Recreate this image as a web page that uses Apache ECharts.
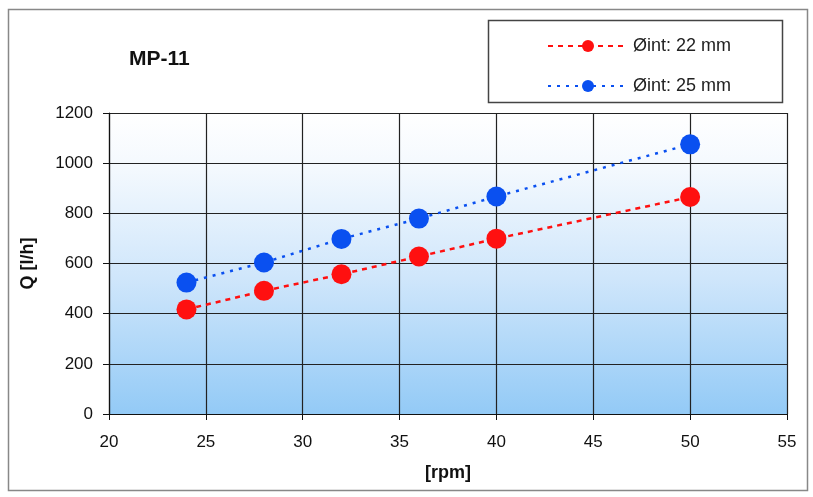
<!DOCTYPE html>
<html><head><meta charset="utf-8">
<script src="https://cdn.jsdelivr.net/npm/echarts@6/dist/echarts.min.js"></script>
<style>html,body{margin:0;padding:0;background:#fff}#c{width:813px;height:497px}</style>
</head><body><div id="c"></div>
<script>
const rpm = [24, 28, 32, 36, 40, 50];
const q22 = [417, 491, 557, 628, 699, 865];
const q25 = [524, 604, 698, 779, 867, 1075];
const seriesNames = ['Øint: 22 mm', 'Øint: 25 mm'];
const titleText = 'MP-11';
const xName = '[rpm]';
const yName = 'Q [l/h]';

const chart = echarts.init(document.getElementById('c'));
const F = 'Liberation Sans, Arial, sans-serif';
chart.setOption({
  animation: false,
  backgroundColor: '#fff',
  title: { text: titleText, left: 124, top: 44, textStyle: { fontFamily: F, fontSize: 21, fontWeight: 'bold', color: '#111' } },
  graphic: [
    { type: 'rect', shape: { x: 8.5, y: 9.5, width: 799, height: 481 }, style: { fill: 'none', stroke: '#888', lineWidth: 1.5 }, z: 0 },
    { type: 'rect', shape: { x: 488.5, y: 20.5, width: 294, height: 82 }, style: { fill: '#fff', stroke: '#444', lineWidth: 1.5 }, z: 1 }
  ],
  legend: {
    orient: 'vertical', left: 542, top: 32, itemWidth: 80, itemHeight: 15, itemGap: 22, z: 5,
    textStyle: { fontFamily: F, fontSize: 18, color: '#222' },
    data: seriesNames
  },
  grid: {
    left: 109, right: 26, top: 113, bottom: 83, show: true, borderWidth: 0,
    backgroundColor: { type: 'linear', x: 0, y: 0, x2: 0, y2: 1, colorStops: [
      { offset: 0, color: '#ffffff' }, { offset: 0.18, color: '#f4f9fe' }, { offset: 0.55, color: '#cfe6fb' }, { offset: 1, color: '#93caf6' } ] }
  },
  xAxis: {
    type: 'value', min: 20, max: 55, interval: 5,
    name: xName, nameLocation: 'middle', nameGap: 50,
    nameTextStyle: { fontFamily: F, fontSize: 18, fontWeight: 'bold', color: '#111' },
    axisLine: { show: true, lineStyle: { color: '#111', width: 1.2 } },
    axisTick: { show: true, length: 6, lineStyle: { color: '#111' } },
    axisLabel: { margin: 20, fontFamily: F, fontSize: 17, color: '#111', formatter: v => String(v) },
    splitLine: { show: true, lineStyle: { color: '#222', width: 1.2 } }
  },
  yAxis: {
    type: 'value', min: 0, max: 1200, interval: 200,
    name: yName, nameLocation: 'middle', nameGap: 72, nameRotate: 90,
    nameTextStyle: { fontFamily: F, fontSize: 18, fontWeight: 'bold', color: '#111' },
    axisLine: { show: true, lineStyle: { color: '#111', width: 1.2 } },
    axisTick: { show: true, length: 6, lineStyle: { color: '#111' } },
    axisLabel: { margin: 16, fontFamily: F, fontSize: 17, color: '#111', formatter: v => String(v) },
    splitLine: { show: true, lineStyle: { color: '#222', width: 1.2 } }
  },
  series: [
    { name: seriesNames[0], type: 'line', data: rpm.map((x, i) => [x, q22[i]]),
      symbol: 'circle', symbolSize: 20, z: 3,
      itemStyle: { color: '#ff1010' },
      lineStyle: { color: '#ff1010', width: 2.5, type: [5, 5] } },
    { name: seriesNames[1], type: 'line', data: rpm.map((x, i) => [x, q25[i]]),
      symbol: 'circle', symbolSize: 20, z: 3,
      itemStyle: { color: '#0a50f0' },
      lineStyle: { color: '#0a50f0', width: 2.5, type: [3, 6] } }
  ]
});
</script></body></html>
